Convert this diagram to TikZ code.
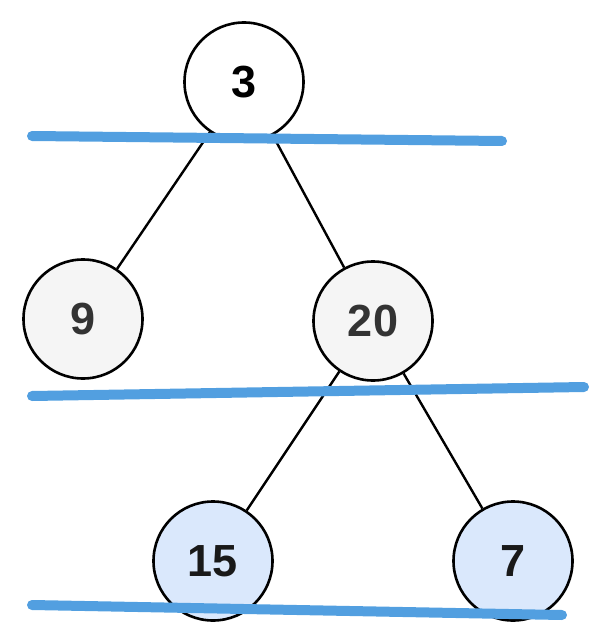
\documentclass[tikz,border=0pt]{standalone}
\usepackage{fontspec}
\setmainfont{Liberation Sans}
\usepackage{tikz}

\definecolor{levelblue}{HTML}{529FE0}
\definecolor{greyfill}{HTML}{F5F5F5}
\definecolor{bluefill}{HTML}{DAE8FC}
\definecolor{darktext}{HTML}{333333}

\begin{document}
\begin{tikzpicture}[x=1pt,y=-1pt]
					\tikzstyle{every node}=[draw,circle,line width=2.6pt,minimum size=119pt,inner sep=0pt,font=\fontsize{45}{45}\selectfont\bfseries]
					\tikzstyle{grey node}=[fill=greyfill,text=darktext]
					\tikzstyle{leaf node}=[fill=bluefill,text=black!90]
					\tikzstyle{level line}=[levelblue,line width=10pt,line cap=round]

					\useasboundingbox (0,0) rectangle (605,644);

					\node[fill=white] (n3) at (244,82) {3};
					\node[grey node] (n9) at (83,319) {9};
					\node[grey node] (n20) at (373,321) {20};
					\node[leaf node] (n15) at (213,561) {15};
					\node[leaf node] (n7) at (513,561) {7};

					\draw[line width=2.4pt] (n3) -- (n9);
					\draw[line width=2.4pt] (n3) -- (n20);
					\draw[line width=2.4pt] (n20) -- (n15);
					\draw[line width=2.4pt] (n20) -- (n7);

					% level separators
					\draw[level line] (32,136) -- (502,141);
					\draw[level line] (32,396) -- (584,387);
					\draw[level line] (32,605) -- (562,615);

					\end{tikzpicture}
\end{document}
